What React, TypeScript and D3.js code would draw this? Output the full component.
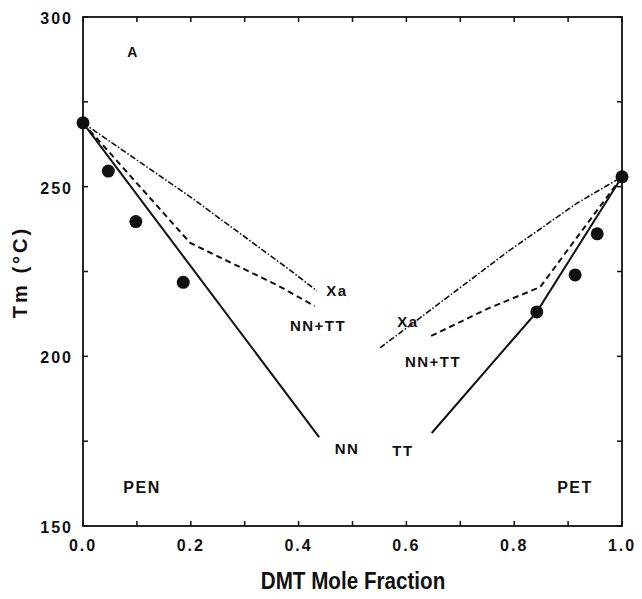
import React, { useEffect, useRef } from 'react';
import * as d3 from 'd3';

type Pt = [number, number];

// measured melting points (DMT mole fraction, Tm)
const penPoints: Pt[] = [
  [0.0, 268.8],
  [0.047, 254.6],
  [0.098, 239.7],
  [0.186, 221.8],
];
const petPoints: Pt[] = [
  [0.842, 213.1],
  [0.913, 224.0],
  [0.954, 236.1],
  [1.0, 252.9],
];

// model curves
const penNN: Pt[] = [
  [0.0, 268.8],
  [0.438, 176.2],
];
const penNNTT: Pt[] = [
  [0.0, 268.8],
  [0.199, 233.4],
  [0.36, 221.0],
  [0.43, 214.8],
];
const penXa: Pt[] = [
  [0.0, 268.8],
  [0.199, 247.0],
  [0.384, 225.4],
  [0.434, 219.3],
];
const petTT: Pt[] = [
  [0.647, 177.4],
  [0.842, 213.1],
  [1.0, 252.9],
];
const petNNTT: Pt[] = [
  [0.646, 206.0],
  [0.75, 214.0],
  [0.848, 220.4],
  [1.0, 252.9],
];
const petXa: Pt[] = [
  [0.551, 202.5],
  [0.62, 210.7],
  [0.792, 231.3],
  [0.917, 245.2],
  [1.0, 252.9],
];

const xTicks = [0, 0.1, 0.2, 0.3, 0.4, 0.5, 0.6, 0.7, 0.8, 0.9, 1.0];
const xLabels = [0, 0.2, 0.4, 0.6, 0.8, 1.0];
const yTicks = [150, 175, 200, 225, 250, 275, 300];
const yLabels = [150, 200, 250, 300];

const FONT = "'Liberation Sans Narrow', 'Liberation Sans', Arial, sans-serif";

const App: React.FC = () => {
  const svgRef = useRef<SVGSVGElement>(null);

  useEffect(() => {
    if (!svgRef.current) return;
    const svg = d3.select(svgRef.current);
    svg.selectAll('*').remove();

    const x = d3.scaleLinear().domain([0, 1]).range([83, 622]);
    const y = d3.scaleLinear().domain([150, 300]).range([526, 17]);

    const line = d3
      .line<Pt>()
      .x((d) => x(d[0]))
      .y((d) => y(d[1]));

    // frame
    svg
      .append('rect')
      .attr('x', x(0))
      .attr('y', y(300))
      .attr('width', x(1) - x(0))
      .attr('height', y(150) - y(300))
      .attr('fill', 'none')
      .attr('stroke', '#111')
      .attr('stroke-width', 1.8);

    // inward ticks
    const tk = svg.append('g').attr('stroke', '#111').attr('stroke-width', 1.5);
    xTicks.forEach((t) => {
      tk.append('line').attr('x1', x(t)).attr('x2', x(t)).attr('y1', y(150)).attr('y2', y(150) - 5);
      tk.append('line').attr('x1', x(t)).attr('x2', x(t)).attr('y1', y(300)).attr('y2', y(300) + 5);
    });
    yTicks.forEach((t) => {
      tk.append('line').attr('x1', x(0)).attr('x2', x(0) + 5).attr('y1', y(t)).attr('y2', y(t));
      tk.append('line').attr('x1', x(1)).attr('x2', x(1) - 5).attr('y1', y(t)).attr('y2', y(t));
    });

    // tick labels
    svg
      .append('g')
      .selectAll('text')
      .data(xLabels)
      .enter()
      .append('text')
      .attr('x', (d) => x(d))
      .attr('y', 551)
      .attr('text-anchor', 'middle')
      .attr('font-family', FONT)
      .attr('font-weight', 'bold')
      .attr('font-size', 16)
      .attr('letter-spacing', 2)
      .attr('fill', '#111')
      .text((d) => d.toFixed(1));

    svg
      .append('g')
      .selectAll('text')
      .data(yLabels)
      .enter()
      .append('text')
      .attr('x', 73)
      .attr('y', (d) => y(d) + 7)
      .attr('text-anchor', 'end')
      .attr('font-family', FONT)
      .attr('font-weight', 'bold')
      .attr('font-size', 16)
      .attr('letter-spacing', 2)
      .attr('fill', '#111')
      .text((d) => String(d));

    // axis titles (condensed like the original)
    svg
      .append('text')
      .attr('transform', 'translate(353,589) scale(0.86,1)')
      .attr('text-anchor', 'middle')
      .attr('font-family', FONT)
      .attr('font-weight', 'bold')
      .attr('font-size', 24)
      .attr('fill', '#111')
      .text('DMT Mole Fraction');

    svg
      .append('text')
      .attr('transform', 'translate(27,272) rotate(-90)')
      .attr('text-anchor', 'middle')
      .attr('font-family', FONT)
      .attr('font-weight', 'bold')
      .attr('font-size', 20)
      .attr('letter-spacing', 3)
      .attr('fill', '#111')
      .text('Tm (°C)');

    // curves
    const curves: { d: Pt[]; dash: string | null; w: number }[] = [
      { d: penNN, dash: null, w: 2 },
      { d: penNNTT, dash: '6,4', w: 2 },
      { d: penXa, dash: '6,2,1.5,2', w: 1.6 },
      { d: petTT, dash: null, w: 2 },
      { d: petNNTT, dash: '6,4', w: 2 },
      { d: petXa, dash: '6,2,1.5,2', w: 1.6 },
    ];
    curves.forEach((c) => {
      svg
        .append('path')
        .attr('d', line(c.d) || '')
        .attr('fill', 'none')
        .attr('stroke', '#111')
        .attr('stroke-width', c.w)
        .attr('stroke-dasharray', c.dash);
    });

    // data points
    svg
      .append('g')
      .selectAll('circle')
      .data([...penPoints, ...petPoints])
      .enter()
      .append('circle')
      .attr('cx', (d) => x(d[0]))
      .attr('cy', (d) => y(d[1]))
      .attr('r', 6.5)
      .attr('fill', '#111');

    // annotations
    const notes: [string, number, number, number][] = [
      ['A', 133, 57, 14],
      ['Xa', 337, 296, 15],
      ['NN+TT', 318, 331, 15],
      ['NN', 347, 454, 15],
      ['Xa', 408, 327, 15],
      ['NN+TT', 433, 367, 15],
      ['TT', 403, 456, 15],
      ['PEN', 142, 493, 16],
      ['PET', 575, 493, 16],
    ];
    svg
      .append('g')
      .selectAll('text')
      .data(notes)
      .enter()
      .append('text')
      .attr('x', (d) => d[1])
      .attr('y', (d) => d[2])
      .attr('text-anchor', 'middle')
      .attr('font-family', FONT)
      .attr('font-weight', 'bold')
      .attr('font-size', (d) => d[3])
      .attr('letter-spacing', 1.5)
      .attr('fill', '#111')
      .text((d) => d[0]);
  }, []);

  return (
    <svg
      ref={svgRef}
      width="642"
      height="599"
      style={{ position: 'absolute', left: 0, top: 0, background: '#fff' }}
    />
  );
};

export default App;
